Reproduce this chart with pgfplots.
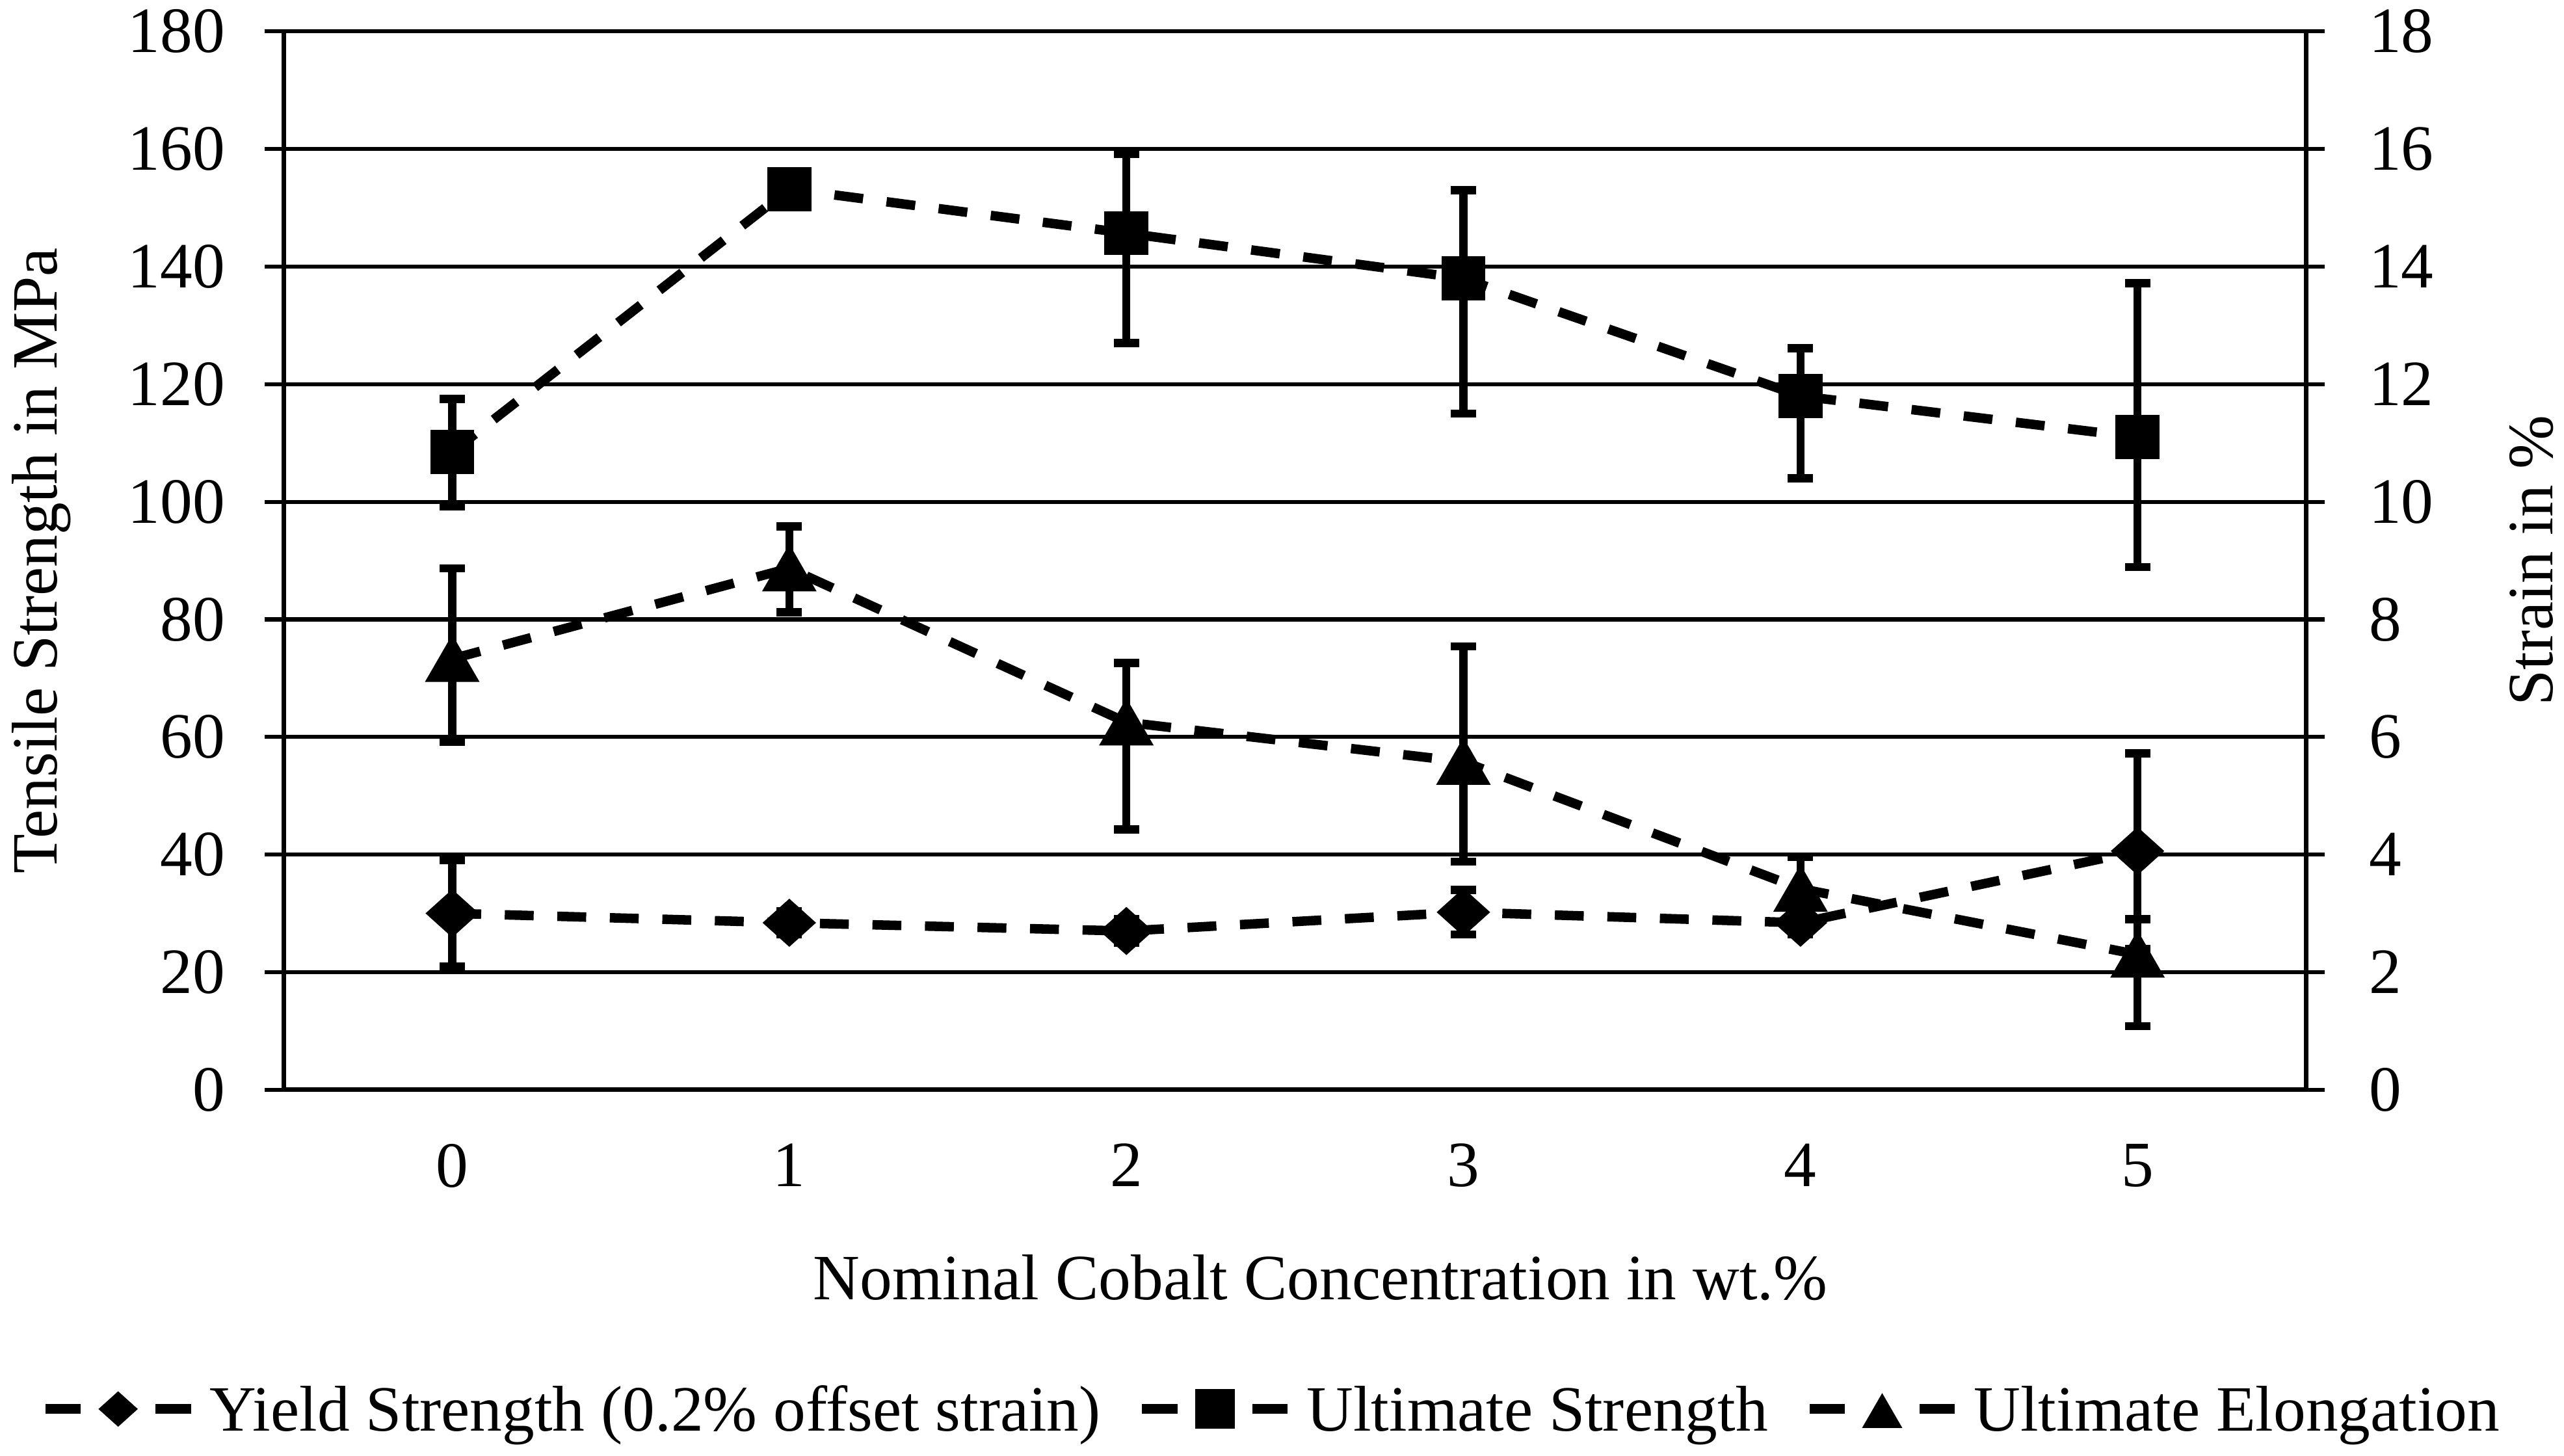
\documentclass[border=0pt]{standalone}
\usepackage{fontspec}
\setmainfont{Liberation Serif}
\usepackage{pgfplots}
\pgfplotsset{compat=1.18}
\usepackage{pgfplotstable}

\pgfplotstableread{
x y ep em
0 30.0 9.0 9.0
1 28.4 2.0 2.0
2 27.0 2.0 2.0
3 30.2 3.8 3.8
4 28.4 2.0 2.0
5 40.6 16.6 16.6
}\yieldtab
\pgfplotstableread{
x y ep em
0 108.5 9.0 9.3
1 153.2 2.0 2.0
2 145.7 13.5 18.7
3 138.0 15.0 23.0
4 118.0 8.1 14.0
5 111.0 26.2 22.1
}\ulttab
\pgfplotstableread{
x y ep em
0 7.33 1.54 1.41
1 8.87 0.71 0.75
2 6.25 1.01 1.82
3 5.58 1.96 1.70
4 3.42 0.54 0.50
5 2.30 0.60 1.22
}\elongtab

\pgfplotsset{
  common/.style={
    scale only axis, width=384.9pt, height=201.4pt,
    xmin=-0.5, xmax=5.5,
    /pgf/number format/assume math mode=true,
    axis line style={line width=0.9pt, black},
    tick align=outside, major tick length=3.6pt,
    tick style={line width=0.75pt, black},
  },
  ser/.style={black, line width=1.8pt, dash pattern=on 5.5pt off 4.5pt,
    error bars/y dir=both, error bars/y explicit,
    error bars/error bar style={solid, line width=1.55pt},
    error bars/error mark options={rotate=90, mark size=2.4pt, line width=1.55pt, solid}},
  leg/.style={legend image code/.code={
    \draw[##1, solid] (0pt,4.15pt) -- (6.7pt,4.15pt);
    \draw[##1, solid] (21pt,4.15pt) -- (27.7pt,4.15pt);
    \draw[##1, every mark/.append style={scale=#1}] plot coordinates {(13.85pt,4.15pt)};}},
  yieldstyle/.style={ser, mark=square*, mark size=3.05pt,
    mark options={solid, fill=black, line width=0.4pt, xscale=1.11, rotate=45}, leg=0.72},
  ultstyle/.style={ser, mark=square*, mark size=4.0pt,
    mark options={solid, fill=black, line width=0.4pt}, leg=0.9},
  elstyle/.style={ser, mark=triangle*, mark size=5.6pt,
    mark options={solid, fill=black, line width=0.4pt, yshift=-1.4pt}, leg=0.72},
}

\begin{document}
\fontsize{12.3}{14.8}\selectfont
\begin{tikzpicture}
\begin{axis}[common, name=main,
  ymin=0, ymax=180, ytick={0,20,...,180},
  axis x line*=bottom, axis y line*=left,
  ymajorgrids, grid style={line width=0.75pt, black},
  xtick={0,1,2,3,4,5}, xtick style={draw=none},
  yticklabel style={inner sep=0pt, xshift=-7.4pt},
  xticklabel style={inner sep=0pt, yshift=-6.5pt},
  xlabel={Nominal Cobalt Concentration in wt.\%},
  xlabel style={at={(axis description cs:0.5126,-0.1986)}, anchor=base, inner sep=0pt},
  ylabel={Tensile Strength in MPa},
  ylabel style={at={(axis description cs:-0.112,0.5)}, anchor=base, inner sep=0pt},
]
\addplot[yieldstyle] table[x=x, y=y, y error plus=ep, y error minus=em] {\yieldtab};
\addplot[ultstyle] table[x=x, y=y, y error plus=ep, y error minus=em] {\ulttab};
\end{axis}
\begin{axis}[common,
  ymin=0, ymax=18, ytick={0,2,...,18},
  axis y line*=right, axis x line=none,
  yticklabel style={inner sep=0pt, xshift=8.2pt},
  ylabel={Strain in \%},
  ylabel style={at={(axis description cs:1.1218,0.5)}, anchor=base, inner sep=0pt},
  legend columns=-1,
  legend style={at={(axis description cs:0.4913,-0.3054)}, anchor=center,
    draw=none, fill=none, inner sep=0pt,
    cells={anchor=base}, nodes={inner xsep=2.7pt, inner ysep=0pt},
    /tikz/every even column/.append style={column sep=4.3pt}},
]
\addlegendimage{yieldstyle}
\addlegendentry{Yield Strength (0.2\% offset strain)}
\addlegendimage{ultstyle}
\addlegendentry{Ultimate Strength}
\addplot[elstyle] table[x=x, y=y, y error plus=ep, y error minus=em] {\elongtab};
\addlegendentry{Ultimate Elongation}
\end{axis}
\pgfresetboundingbox
\path[use as bounding box] ([shift={(-54pt,-69.7pt)}]main.south west) rectangle ([shift={(49.1pt,6pt)}]main.north east);
\end{tikzpicture}
\end{document}
